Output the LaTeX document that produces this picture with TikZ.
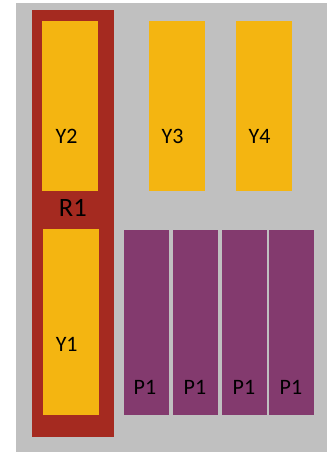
\documentclass[tikz,border=0pt]{standalone}
\usepackage{fontspec}
\setmainfont{Carlito}
\definecolor{bggray}{RGB}{192,192,192}
\definecolor{rred}{RGB}{165,42,32}
\definecolor{yyel}{RGB}{244,181,17}
\definecolor{ppur}{RGB}{131,58,110}
\tikzset{
  blk/.style={draw=none, inner sep=0pt, outer sep=0pt},
  lbl/.style={inner sep=0pt, font=\fontsize{22}{22}\selectfont, text=black},
  biglbl/.style={inner sep=0pt, font=\fontsize{26.5}{26.5}\selectfont, text=black},
}
\newcommand{\boxat}[6]{% name, x1, y1, x2, y2, color
  \node[blk, fill=#6, minimum width={(#4-#2)*1pt}, minimum height={(#5-#3)*1pt}] (#1) at ({(#2+#4)/2},{(#3+#5)/2}) {};
}
\begin{document}
\begin{tikzpicture}[x=1pt,y=-1pt]
\useasboundingbox (0,0) rectangle (328,452);
\boxat{bg}{16}{3}{327}{452}{bggray}
\boxat{r1}{32}{10}{114}{437}{rred}
\boxat{y2}{42}{21}{98}{191}{yyel}
\boxat{y3}{149}{21}{205}{191}{yyel}
\boxat{y4}{236}{21}{292}{191}{yyel}
\boxat{y1}{43}{229}{99}{415}{yyel}
\boxat{pa}{124}{230}{169}{415}{ppur}
\boxat{pb}{173}{230}{218}{415}{ppur}
\boxat{pc}{222}{230}{267}{415}{ppur}
\boxat{pd}{269}{230}{314}{415}{ppur}
\node[lbl] (ty2) at (66.5,136.2) {Y2};
\node[lbl] (ty3) at (172.5,136.2) {Y3};
\node[lbl] (ty4) at (259.5,136.2) {Y4};
\node[lbl] (ty1) at (66.7,344.5) {Y1};
\node[biglbl] (tr1) at (72.8,207.5) {R1};
\node[lbl] (tpa) at (145,387) {P1};
\node[lbl] (tpb) at (195,387) {P1};
\node[lbl] (tpc) at (244,387) {P1};
\node[lbl] (tpd) at (291,387) {P1};
\end{tikzpicture}
\end{document}
